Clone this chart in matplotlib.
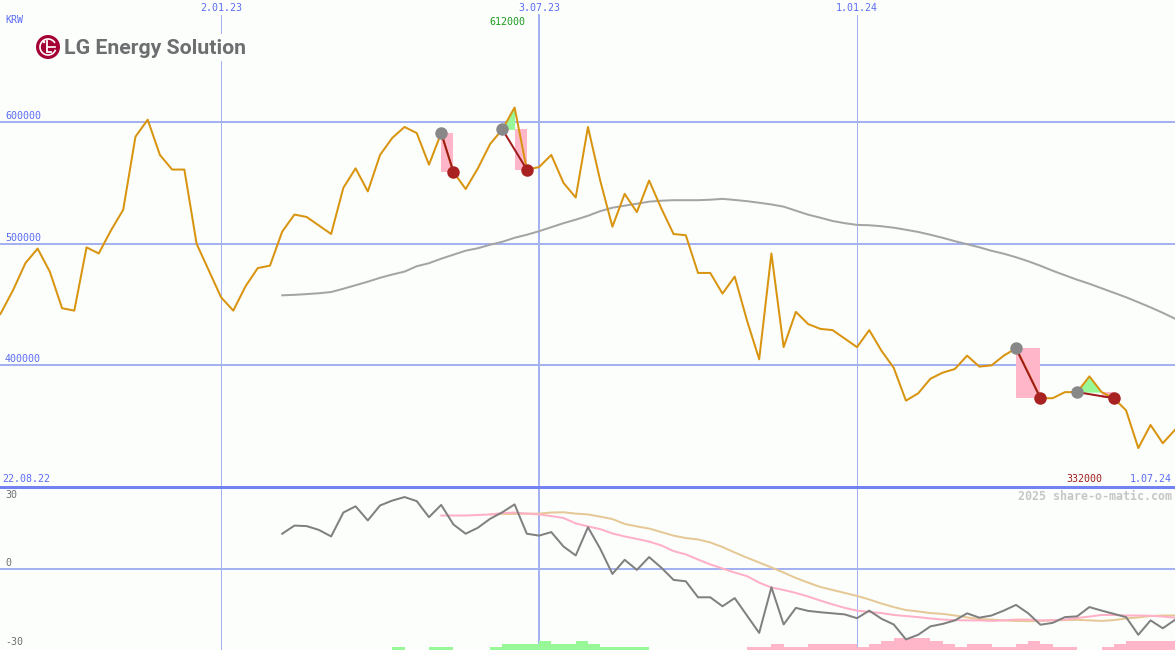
import matplotlib
matplotlib.use("Agg")
import matplotlib.pyplot as plt
from matplotlib.patches import Circle, Arc, Rectangle
import numpy as np

# weekly closes in KRW, 22.08.22 .. 1.07.24
price = [430000, 443000, 462000, 484000, 496000, 477000, 447000, 445000, 497000, 492000,
         511000, 528000, 588000, 602000, 573000, 561000, 561000, 500000, 478000, 456000,
         445000, 465000, 480000, 482000, 510000, 524000, 522000, 515000, 508000, 546000,
         562000, 543000, 573000, 587000, 596000, 591000, 565000, 591000, 559000, 545000,
         562000, 582000, 594000, 612000, 561000, 563000, 573000, 550000, 538000, 596000,
         552000, 514000, 541000, 526000, 552000, 529000, 508000, 507000, 476000, 476000,
         459000, 473000, 437000, 405000, 492000, 415000, 444000, 434000, 430000, 429000,
         422000, 415000, 429000, 412000, 398000, 371000, 377000, 389000, 394000, 397000,
         408000, 399000, 400000, 408000, 414000, 394000, 373000, 373000, 378000, 378000,
         391000, 378000, 373000, 363000, 332000, 351000, 336000, 347000]
weeks = np.arange(len(price))

# long moving average (grey line in the price panel)
ma_start = 24
ma = [457600, 458000, 458600, 459300, 460300, 463000, 465900, 468800, 472000, 474700,
      477100, 481500, 484000, 487700, 491000, 494300, 496300, 499200, 501600, 504900,
      507400, 510300, 513600, 516900, 519800, 523000, 526800, 529600, 531300, 532900,
      534600, 535400, 535800, 535800, 535800, 536200, 536900, 536000, 535000, 533700,
      532300, 530500, 527200, 523900, 521400, 518700, 516900, 515500, 515200, 514400,
      513200, 511500, 509700, 507400, 504900, 502100, 499600, 497100, 494200, 491800,
      488900, 485600, 481900, 477800, 474100, 470400, 467100, 463400, 459700, 456000,
      451900, 447700, 443200, 438400]

# lower panel: oscillator and its two averages
osc_start = 24
osc = [12.8, 15.8, 15.6, 14.2, 11.8, 20.6, 22.9, 17.7, 23.2, 25.0, 26.3, 24.8, 18.9, 23.4,
       16.2, 12.8, 15.0, 18.3, 20.7, 23.6, 12.8, 12.1, 13.4, 8.1, 4.8, 15.2, 7.3, -2.0,
       3.2, -0.5, 4.2, 0.3, -4.2, -4.7, -10.6, -10.6, -13.9, -10.9, -17.3, -23.7, -6.9,
       -20.6, -14.5, -15.6, -16.1, -16.5, -16.9, -18.3, -15.5, -18.5, -20.6, -26.1, -24.4,
       -21.3, -20.4, -19.1, -16.5, -18.1, -17.3, -15.5, -13.4, -16.5, -20.7, -20.0, -17.9,
       -17.6, -14.2, -15.5, -16.7, -17.9, -24.4, -19.1, -22.0, -18.9]
sig_start = 37
sig = [19.5, 19.5, 19.5, 19.7, 19.9, 20.4, 20.6, 20.2, 19.9, 19.3, 18.6, 16.6, 15.5, 14.5,
       12.9, 11.8, 10.9, 9.9, 8.5, 6.4, 5.2, 3.3, 1.5, 0.0, -1.5, -2.8, -5.2, -7.0, -7.9,
       -9.0, -10.3, -11.8, -13.2, -14.5, -15.5, -16.0, -16.4, -17.1, -17.5, -17.9, -18.4,
       -18.8, -19.0, -19.1, -19.1, -19.3, -19.1, -18.8, -18.8, -19.1, -19.0, -18.8, -18.2,
       -17.7, -17.1, -17.1, -17.3, -17.3, -17.4, -17.7, -18.1]
slow_start = 41
slow = [19.9, 20.1, 20.1, 20.2, 20.2, 20.6, 20.7, 20.2, 19.9, 19.1, 18.2, 16.4, 15.5, 14.7,
        13.4, 12.1, 11.2, 10.7, 9.6, 7.9, 5.9, 4.0, 2.2, 0.4, -1.5, -3.5, -5.2, -6.8, -7.9,
        -9.0, -10.1, -11.4, -12.9, -14.2, -15.3, -15.8, -16.4, -16.7, -17.3, -18.0, -18.6,
        -18.8, -19.1, -19.3, -19.4, -19.3, -19.1, -19.0, -18.9, -19.1, -19.3, -19.0, -18.4,
        -18.0, -17.5, -17.3, -17.3]
# histogram steps at the bottom (positive green, negative pink)
hist_start = 34
hist = [1, 0, 0, 1, 1, 0, 0, 0, 1, 2, 2, 2, 3, 2, 2, 3, 2, 1, 1, 1, 1,
        0, 0, 0, 0, 0, 0, 0, 0,
        -1, -1, -2, -1, -1, -2, -2, -2, -2, -1, -2, -3, -4, -4, -4, -3, -2, -1, -2, -2,
        -1, -1, -2, -3, -2, -1, -1, 0, 0, -1, -2, -3, -3, -3, -3]

# (entry week, exit week)
trades = [(37, 38), (42, 44), (84, 86), (89, 92)]

date_weeks = [19, 45, 71]
date_labels = ["2.01.23", "3.07.23", "1.01.24"]
date_lw = [1, 2, 1]
price_ticks = [400000, 500000, 600000]
osc_ticks = [30, 0, -30]

bg = "#fcfefc"
blue = "#5b6cf4"
grid = "#a4b2f2"
mono = "DejaVu Sans Mono"
px = 0.72  # one pixel in points

W, H = 1175, 650
fig = plt.figure(figsize=(W / 100, H / 100), dpi=100, facecolor=bg)
ax = fig.add_axes([0, 163 / H, 1, 487 / H])
ax2 = fig.add_axes([0, 0, 1, 163 / H])
for a in (ax, ax2):
    a.set_xlim(len(price) - 1 - W / 12.23, len(price) - 1)
    a.axis("off")
ax.set_ylim(300000, 700400)
ax2.set_ylim(-30, 30)

# grid
for v in price_ticks:
    ax.axhline(v, color=grid, lw=2 * px, zorder=1)
    ax.annotate(str(v), (5 / W, v), xycoords=ax.get_yaxis_transform(), xytext=(0, 6),
                textcoords="offset pixels", va="center", ha="left", color=blue,
                fontsize=7.2, family=mono)
for w, lab, lw in zip(date_weeks, date_labels, date_lw):
    ax.axvline(w, ymax=1 - 15 / 487, color=grid, lw=lw * px, zorder=1)
    ax2.axvline(w, color=grid, lw=lw * px, zorder=1)
    ax.text(w, 1 - 8 / 487, lab, transform=ax.get_xaxis_transform(), ha="center",
            va="center", color=blue, fontsize=7.2, family=mono)
ax2.axhline(0, color=grid, lw=2 * px, zorder=1)
ax2.axhline(30, color="#7282f2", lw=3 * px, zorder=5, clip_on=False)

# price panel
ax.plot(weeks[ma_start:], ma, color="#a4a4a4", lw=2 * px, zorder=2)
for e, x in trades:
    pe, pxit = price[e], price[x]
    k = max(i for i in range(e, x) if price[i] >= pe)
    if k > e:
        ax.fill_between(weeks[e:k + 1], pe, price[e:k + 1], color="#98f898", lw=0, zorder=2)
    ax.fill_between([k, x], pxit, pe, color="#ffb6c8", lw=0, zorder=2)
ax.plot(weeks, price, color="#d8940e", lw=2 * px, zorder=3)
for e, x in trades:
    ax.plot([e, x], [price[e], price[x]], color="#a01c1c", lw=2 * px, zorder=4)
    ax.plot(e, price[e], "o", ms=9, color="#888888", mec="none", zorder=5)
    ax.plot(x, price[x], "o", ms=9, color="#a82222", mec="none", zorder=5)

imax = int(np.argmax(price))
ax.text(imax - 0.55, 1 - 22 / 487, str(max(price)), transform=ax.get_xaxis_transform(),
        ha="center", va="center", color="#1e9a1e", fontsize=7.2, family=mono)
ax.text(1102 / W, 8 / 487, str(min(price)), transform=ax.transAxes, ha="right",
        va="center", color="#a01c1c", fontsize=7.2, family=mono)
ax.text(2 / W, 8 / 487, "22.08.22", transform=ax.transAxes, ha="left", va="center",
        color=blue, fontsize=7.2, family=mono)
ax.text(1172 / W, 8 / 487, "1.07.24", transform=ax.transAxes, ha="right", va="center",
        color=blue, fontsize=7.2, family=mono)
ax.text(5 / W, 1 - 20 / 487, "KRW", transform=ax.transAxes, ha="left", va="center",
        color=blue, fontsize=7.2, family=mono)

# lower panel
hx = weeks[hist_start:] - 0.5
hv = np.array(hist)
ax2.bar(hx[hv > 0], hv[hv > 0] * 1.1, width=1.0, bottom=-30, color="#98f898", lw=0, zorder=2)
ax2.bar(hx[hv < 0], -hv[hv < 0] * 1.1, width=1.0, bottom=-30, color="#ffb6c8", lw=0, zorder=2)
ax2.plot(weeks[slow_start:], slow, color="#e6c896", lw=2 * px, zorder=3)
ax2.plot(weeks[sig_start:], sig, color="#ffb0c6", lw=2 * px, zorder=3)
ax2.plot(weeks[osc_start:], osc, color="#808080", lw=2 * px, zorder=4)
for v, off in zip(osc_ticks, [-8, 6, 8]):
    ax2.annotate(str(v), (5 / W, v), xycoords=ax2.get_yaxis_transform(), xytext=(0, off),
                 textcoords="offset pixels", va="center", ha="left", color="#707070",
                 fontsize=7.2, family=mono)
ax2.text(1172 / W, (H - 496) / 163, "2025 share-o-matic.com", transform=ax2.transAxes,
         ha="right", va="center", color="#c6c6c6", fontsize=8.4, fontweight="bold", family=mono)

# logo
lax = fig.add_axes([0, 0, 1, 1])
lax.set_xlim(0, W)
lax.set_ylim(H, 0)
lax.axis("off")
lax.add_patch(Rectangle((30, 34), 220, 27, color=bg, lw=0))
lax.add_patch(Circle((48, 47), 12, color="#a50034", lw=0))
lax.add_patch(Arc((48, 47), 16, 16, theta1=20, theta2=330, color="white", lw=1.2))
lax.plot([47, 47, 51], [41, 52, 52], color="white", lw=1.3, solid_joinstyle="miter")
lax.plot([48, 55], [47, 47], color="white", lw=1.2)
lax.add_patch(Circle((44, 42), 1.3, color="white", lw=0))
lax.text(64, 48, "LG Energy Solution", fontsize=15.3, fontweight="semibold",
         color="#6d6e70", family="Roboto", va="center", ha="left")

fig.savefig("out.png", dpi=100, facecolor=bg)
